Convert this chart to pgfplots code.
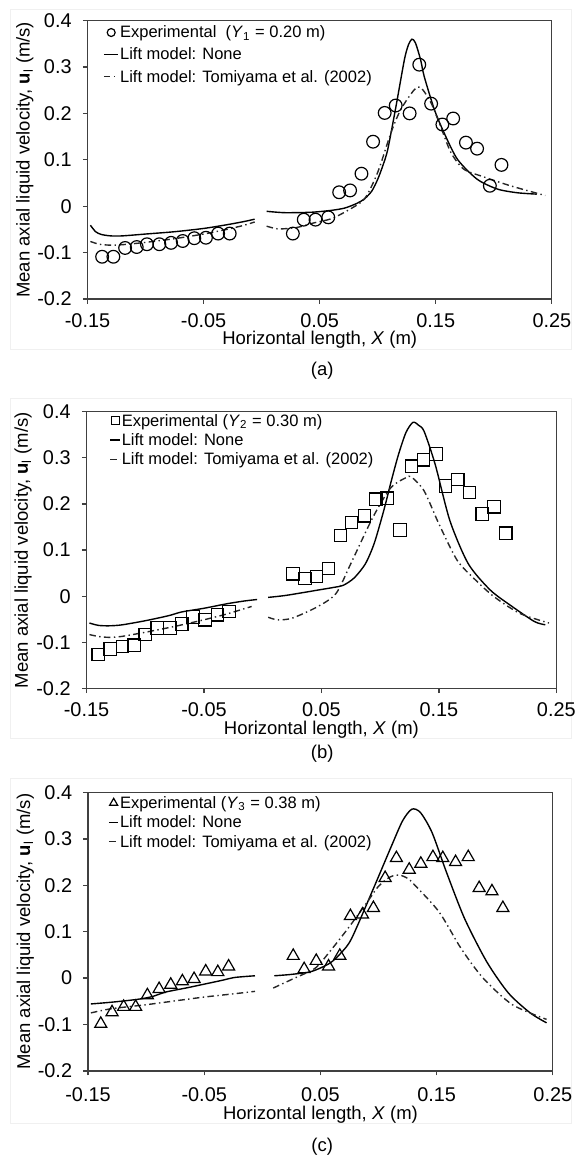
\documentclass[border=0pt]{standalone}
\usepackage{fontspec}
\setmainfont{Liberation Sans}
\usepackage{pgfplots}
\pgfplotsset{compat=1.18}

\pgfplotsset{
  panel/.style={
    scale only axis,
    anchor=south west,
    xmin=-0.15, xmax=0.25, ymin=-0.2, ymax=0.4,
    xtick={-0.15,-0.05,0.05,0.15,0.25},
    xticklabels={-0.15,-0.05,0.05,0.15,0.25},
    ytick={-0.2,-0.1,0,0.1,0.2,0.3,0.4},
    yticklabels={-0.2,-0.1,0,0.1,0.2,0.3,0.4},
    tick pos=left, tick align=outside, major tick length=2.3pt,
    axis line style={black!75, line width=0.65pt},
    every tick/.style={black!75, line width=0.65pt},
    tick label style={font=\fontsize{10}{12}\selectfont, inner sep=0pt},
    yticklabel style={xshift=-5.5pt},
    xticklabel style={yshift=-4.6pt},
    label style={font=\fontsize{9.3}{11}\selectfont, inner sep=0pt},
    ylabel={Mean axial liquid velocity, \textbf{u}\textsubscript{l} (m/s)},
    xlabel={Horizontal length, \textit{X} (m)},
    ylabel style={at={(axis description cs:-0.135,0.5)}, anchor=center},
    legend cell align=left,
  },
  lgd/.style n args={3}{legend style={at={(axis description cs:#1,#2)}, anchor=north west,
    draw=none, fill=none, inner sep=0pt, row sep=#3, column sep=0.5pt,
    font=\fontsize{8.3}{9}\selectfont,
    nodes={inner sep=0pt, text height=6.6pt, text depth=1.2pt}}},
  limg/.style={legend image code/.code={\draw[##1] (0pt,0pt) -- (#1,0pt);}},
  mimg/.style 2 args={legend image code/.code={\draw[##1, mark size=#2] plot coordinates {(#1,0pt)};}},
  solidline/.style={black, line width=0.7pt, smooth, tension=0.45},
  dashline/.style={black!85, line width=0.7pt, smooth, tension=0.45,
    dash pattern=on 3.3pt off 1.7pt on 0.7pt off 1.7pt},
  expmark/.style={only marks, black, mark options={line width=0.6pt, fill=none}},
}

\begin{document}
\begin{tikzpicture}
\path (0pt,0pt) rectangle (288.5pt,-581pt);
\draw[black!6, line width=0.5pt] (5.5pt,-5pt) rectangle (287.5pt,-175.85pt);
\draw[black!6, line width=0.5pt] (5.5pt,-200.35pt) rectangle (287.5pt,-371.35pt);
\draw[black!6, line width=0.5pt] (5.5pt,-391.5pt) rectangle (287.5pt,-565pt);

% ---------------- (a) ----------------
\begin{axis}[panel, at={(44pt,-150.35pt)}, width=233.5pt, height=140pt,
  xlabel style={at={(axis description cs:0.5,-0.1464)}, anchor=center},
  lgd={0.033}{0.9864}{3.3pt}]
\addplot[expmark, mark=o, mark size=3.2pt, mimg={3.65pt}{2pt}]
coordinates {
(-0.1374,-0.109) (-0.1277,-0.109) (-0.1176,-0.090) (-0.1076,-0.088)
(-0.0988,-0.082) (-0.0881,-0.082) (-0.0780,-0.079) (-0.0680,-0.075)
(-0.0580,-0.069) (-0.0480,-0.068) (-0.0375,-0.059) (-0.0275,-0.059)
(0.0269,-0.059) (0.0363,-0.029) (0.0464,-0.029) (0.0574,-0.024)
(0.0668,0.030) (0.0762,0.034) (0.0860,0.070) (0.0960,0.139)
(0.1060,0.201) (0.1155,0.217) (0.1275,0.200) (0.1358,0.305)
(0.1460,0.221) (0.1557,0.176) (0.1650,0.189) (0.1760,0.137)
(0.1856,0.124) (0.1966,0.044) (0.2066,0.089)
};
\addlegendentry{Experimental\ \ (\textit{Y}\textsubscript{1} = 0.20 m)}
\addplot[solidline, limg=7.3pt]
coordinates {
(-0.1475,-0.041) (-0.143,-0.055) (-0.138,-0.061) (-0.130,-0.064) (-0.120,-0.064)
(-0.100,-0.060) (-0.075,-0.055) (-0.050,-0.048) (-0.030,-0.040) (-0.015,-0.033) (-0.006,-0.028)
};
\addlegendentry{Lift model: None}
\addplot[dashline, limg=7.3pt]
coordinates {
(-0.1475,-0.076) (-0.140,-0.082) (-0.130,-0.084) (-0.120,-0.083) (-0.100,-0.078)
(-0.075,-0.070) (-0.050,-0.060) (-0.030,-0.050) (-0.015,-0.041) (-0.006,-0.034)
};
\addlegendentry{Lift model: Tomiyama et al. (2002)}
\addplot[solidline, forget plot] coordinates {
(0.0043,-0.011) (0.020,-0.014) (0.043,-0.013) (0.060,-0.009) (0.0716,-0.004)
(0.082,0.006) (0.0887,0.016) (0.095,0.033) (0.100,0.058) (0.1045,0.088)
(0.1087,0.123) (0.1158,0.216) (0.123,0.316) (0.1265,0.348) (0.1295,0.360)
(0.1325,0.352) (0.137,0.315) (0.140,0.280) (0.1487,0.209) (0.157,0.159)
(0.1687,0.101) (0.1857,0.058) (0.203,0.037) (0.220,0.029) (0.237,0.026)
};
\addplot[dashline, forget plot] coordinates {
(0.0043,-0.043) (0.0143,-0.049) (0.030,-0.046) (0.045,-0.036) (0.060,-0.027)
(0.075,-0.008) (0.0887,0.016) (0.100,0.073) (0.1115,0.159) (0.120,0.209)
(0.1315,0.251) (0.137,0.256) (0.1457,0.224) (0.154,0.173) (0.163,0.116)
(0.174,0.080) (0.1915,0.063) (0.2143,0.044) (0.2443,0.023)
};
\end{axis}

% ---------------- (b) ----------------
\begin{axis}[panel, at={(43.5pt,-346.25pt)}, width=236.25pt, height=139.25pt,
  xlabel style={at={(axis description cs:0.5,-0.149)}, anchor=center},
  lgd={0.048}{0.9968}{1.95pt}]
\addplot[expmark, mark=square, mark size=3.15pt, mimg={2.5pt}{2pt}]
coordinates {
(-0.140,-0.126) (-0.1297,-0.114) (-0.1194,-0.109) (-0.1094,-0.106)
(-0.100,-0.083) (-0.0897,-0.069) (-0.079,-0.069) (-0.069,-0.060)
(-0.0594,-0.045) (-0.049,-0.051) (-0.0384,-0.040) (-0.0288,-0.033)
(0.0259,0.049) (0.0359,0.0385) (0.0459,0.043) (0.056,0.060)
(0.0663,0.1315) (0.0756,0.160) (0.0866,0.1745) (0.0963,0.2103)
(0.106,0.2124) (0.117,0.1437) (0.1266,0.2819) (0.1369,0.296)
(0.1475,0.308) (0.1556,0.239) (0.166,0.253) (0.176,0.2246)
(0.187,0.178) (0.197,0.194) (0.207,0.1365)
};
\addlegendentry{Experimental (\textit{Y}\textsubscript{2} = 0.30 m)}
\addplot[solidline, limg=5pt]
coordinates {
(-0.1475,-0.058) (-0.140,-0.063) (-0.131,-0.064) (-0.120,-0.062) (-0.100,-0.053)
(-0.080,-0.042) (-0.069,-0.034) (-0.050,-0.026) (-0.030,-0.016) (-0.015,-0.010) (-0.0047,-0.007)
};
\addlegendentry{Lift model: None}
\addplot[dashline, limg=5pt]
coordinates {
(-0.1475,-0.083) (-0.140,-0.087) (-0.131,-0.089) (-0.120,-0.087) (-0.100,-0.078)
(-0.080,-0.068) (-0.069,-0.062) (-0.050,-0.051) (-0.030,-0.038) (-0.0094,-0.022)
};
\addlegendentry{Lift model: Tomiyama et al. (2002)}
\addplot[solidline, forget plot] coordinates {
(0.0047,-0.0024) (0.020,0.002) (0.047,0.0134) (0.060,0.019) (0.0688,0.024)
(0.078,0.040) (0.0875,0.0706) (0.095,0.115) (0.103,0.185) (0.1095,0.250)
(0.1156,0.307) (0.122,0.355) (0.128,0.377) (0.133,0.370) (0.1375,0.357)
(0.1469,0.2854) (0.1594,0.1637) (0.175,0.0706) (0.1938,0.0134) (0.2125,-0.0224)
(0.2313,-0.0547) (0.2406,-0.0618)
};
\addplot[dashline, forget plot] coordinates {
(0.0047,-0.0454) (0.0125,-0.051) (0.025,-0.0475) (0.0469,-0.0224) (0.0625,0.0063)
(0.075,0.0706) (0.0938,0.171) (0.109,0.235) (0.122,0.257) (0.1266,0.2585)
(0.1375,0.228) (0.150,0.157) (0.1656,0.0778) (0.1813,0.035) (0.197,-0.001)
(0.2188,-0.037) (0.2438,-0.058)
};
\end{axis}

% ---------------- (c) ----------------
\begin{axis}[panel, at={(44.25pt,-538.5pt)}, width=233.75pt, height=140pt,
  xticklabel style={yshift=-1.4pt},
  xlabel style={at={(axis description cs:0.5,-0.159)}, anchor=center},
  lgd={0.0428}{0.992}{1.95pt}]
\addplot[expmark, mark=triangle, mark size=3.5pt, mimg={2.35pt}{2.3pt}]
coordinates {
(-0.139,-0.0986) (-0.1293,-0.0736) (-0.1193,-0.062) (-0.109,-0.062)
(-0.0989,-0.037) (-0.0888,-0.0236) (-0.0788,-0.0143) (-0.0688,-0.007)
(-0.0587,-0.002) (-0.0487,0.0143) (-0.0383,0.0129) (-0.029,0.025)
(0.0266,0.0479) (0.036,0.0193) (0.0464,0.0371) (0.057,0.025)
(0.0667,0.048) (0.0758,0.1336) (0.0862,0.137) (0.0956,0.151)
(0.1057,0.2157) (0.1154,0.2586) (0.1264,0.2336) (0.1364,0.2464)
(0.1468,0.2607) (0.1553,0.2586) (0.1663,0.250) (0.1772,0.2607)
(0.1866,0.194) (0.1976,0.187) (0.207,0.151)
};
\addlegendentry{Experimental (\textit{Y}\textsubscript{3} = 0.38 m)}
\addplot[solidline, limg=4.7pt]
coordinates {
(-0.1475,-0.0557) (-0.130,-0.052) (-0.108,-0.046) (-0.095,-0.040) (-0.083,-0.030)
(-0.065,-0.021) (-0.0518,-0.014) (-0.035,-0.005) (-0.0236,0.0014) (-0.0063,0.005)
};
\addlegendentry{Lift model: None}
\addplot[dashline, limg=4.7pt]
coordinates {
(-0.1475,-0.075) (-0.130,-0.066) (-0.0989,-0.057) (-0.0518,-0.0414) (-0.025,-0.034) (-0.0063,-0.0286)
};
\addlegendentry{Lift model: Tomiyama et al. (2002)}
\addplot[solidline, forget plot] coordinates {
(0.0103,0.005) (0.025,0.008) (0.0423,0.0143) (0.058,0.032) (0.068,0.055)
(0.0769,0.0857) (0.0956,0.193) (0.1113,0.2857) (0.1207,0.339) (0.1286,0.364)
(0.136,0.357) (0.146,0.314) (0.1584,0.2286) (0.174,0.1286) (0.193,0.0357)
(0.2117,-0.032) (0.2305,-0.075) (0.2446,-0.0964)
};
\addplot[dashline, forget plot] coordinates {
(0.0094,-0.0214) (0.0266,-0.0014) (0.0455,0.0214) (0.058,0.057) (0.0737,0.107)
(0.0894,0.1607) (0.100,0.198) (0.110,0.218) (0.118,0.222) (0.125,0.215)
(0.130,0.2036) (0.152,0.143) (0.171,0.064) (0.190,0.000) (0.215,-0.057) (0.2446,-0.089)
};
\end{axis}

\node[font=\fontsize{9.3}{11}\selectfont] at (162pt,-186.65pt) {(a)};
\node[font=\fontsize{9.3}{11}\selectfont] at (162pt,-379.15pt) {(b)};
\node[font=\fontsize{9.3}{11}\selectfont] at (162pt,-576.65pt) {(c)};
\end{tikzpicture}
\end{document}
